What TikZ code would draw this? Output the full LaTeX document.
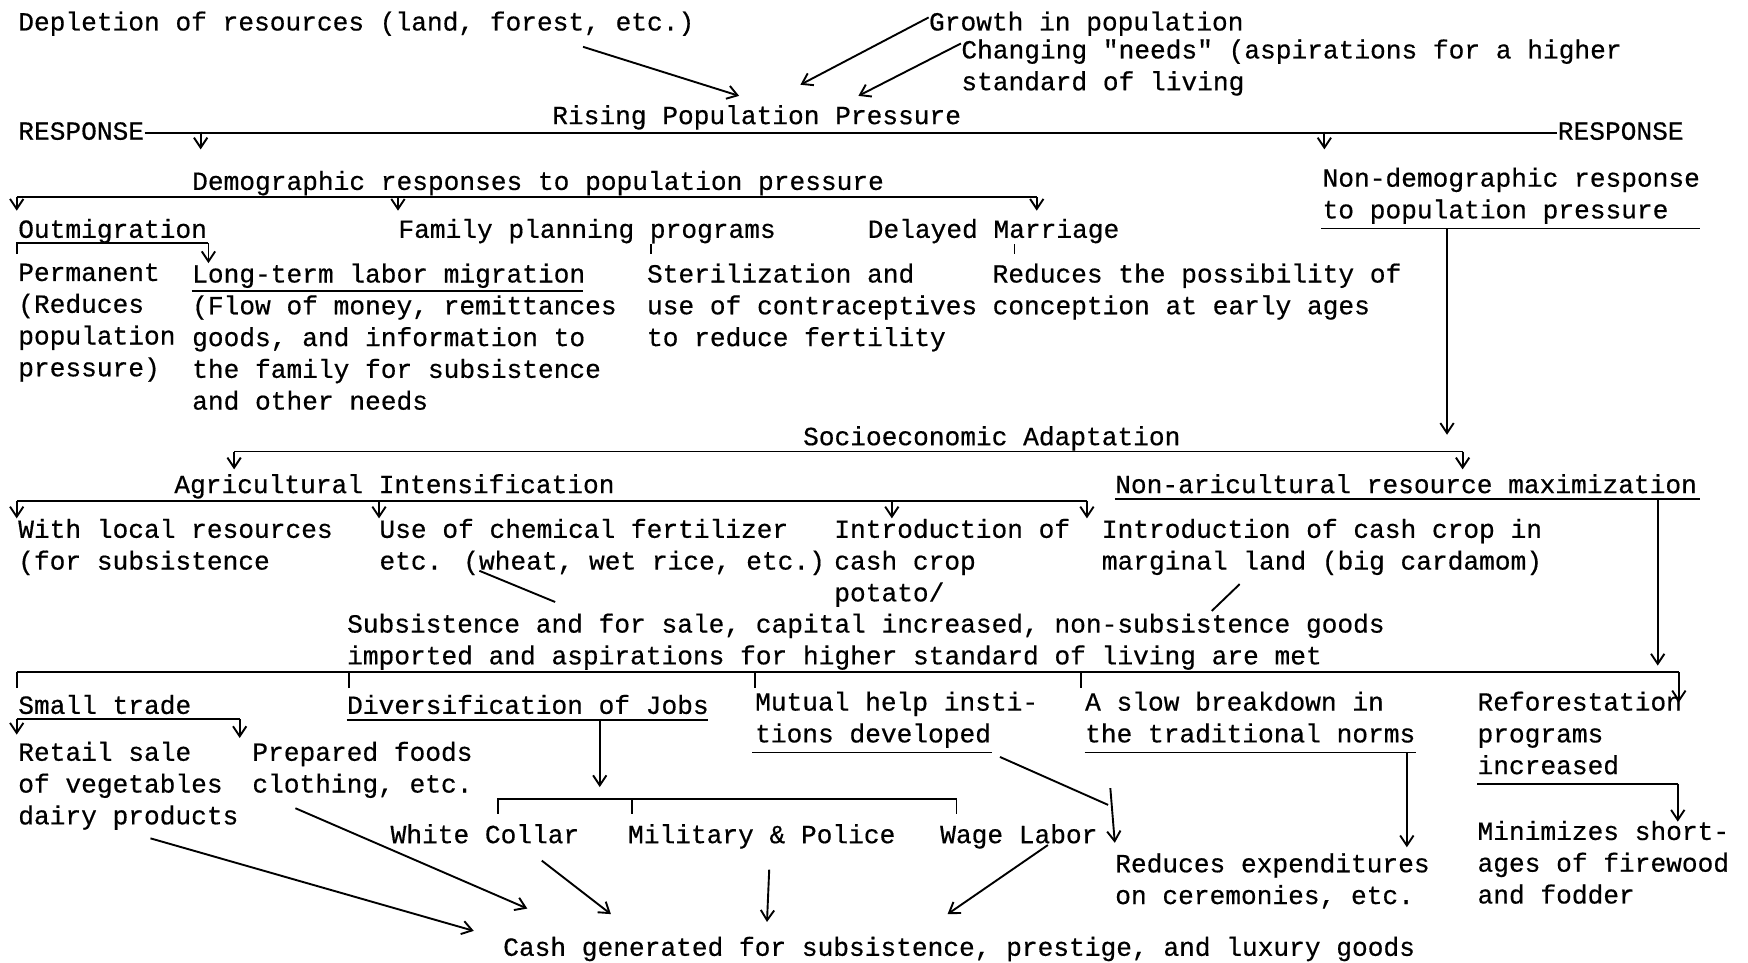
\documentclass[tikz,border=0pt]{standalone}
\usepackage{fontspec}
\newfontfamily\typew[FakeBold=0.5]{Liberation Mono}
\usetikzlibrary{arrows.meta}

\begin{document}
\begin{tikzpicture}[x=0.5pt,y=-0.5pt,
    txt/.style={inner sep=0pt,anchor=north west,align=left,
      font=\typew\fontsize{11.75}{14.25}\selectfont,
      execute at begin node=\strut},
    ln/.style={line width=0.85pt},
    arr/.style={line width=0.85pt,-{Straight Barb[length=4.5pt,width=6pt]}}]
  \fill[white] (0,0) rectangle (1568,863);
  \useasboundingbox (0,0) rectangle (1568,863);

  % causes of pressure
  \node[txt] (dep) at (16,7) {Depletion of resources (land, forest, etc.)};
  \node[txt] (growth) at (833,7) {Growth in population};
  \node[txt] (needs) at (862,35) {Changing "needs" (aspirations for a higher\\standard of living};
  \node[txt] (rpp) at (495,91) {Rising Population Pressure};
  \node[txt] (respL) at (16,105) {RESPONSE};
  \node[txt] (respR) at (1397,105) {RESPONSE};

  % demographic responses
  \node[txt] (demo) at (172,150) {Demographic responses to population pressure};
  \node[txt] (nondemo) at (1186,150) {Non-demographic response\\to population pressure};
  \node[txt] (outm) at (16,193) {Outmigration};
  \node[txt] (famplan) at (357,193) {Family planning programs};
  \node[txt] (delay) at (778,193) {Delayed Marriage};
  \node[txt] (perm) at (16,236) {Permanent\\(Reduces\\population\\pressure)};
  \node[txt] (labor) at (172,236) {Long-term labor migration\\(Flow of money, remittances\\goods, and information to\\the family for subsistence\\and other needs};
  \node[txt] (steril) at (580,236) {Sterilization and\\use of contraceptives\\to reduce fertility};
  \node[txt] (concep) at (890,236) {Reduces the possibility of\\conception at early ages};

  % socioeconomic adaptation
  \node[txt] (socio) at (720,379) {Socioeconomic Adaptation};
  \node[txt] (agri) at (156,422) {Agricultural Intensification};
  \node[txt] (nonagri) at (1000,422) {Non-aricultural resource maximization};
  \node[txt] (local) at (16,465) {With local resources\\(for subsistence};
  \node[txt] (chem) at (340,465) {Use of chemical fertilizer\\etc. (wheat, wet rice, etc.)};
  \node[txt] (potato) at (748,465) {Introduction of\\cash crop\\potato/};
  \node[txt] (cardam) at (988,465) {Introduction of cash crop in\\marginal land (big cardamom)};
  \node[txt] (subsist) at (311,550) {Subsistence and for sale, capital increased, non-subsistence goods\\imported and aspirations for higher standard of living are met};

  % outcomes
  \node[txt] (trade) at (16,620) {Small trade};
  \node[txt] (divers) at (311,620) {Diversification of Jobs};
  \node[txt] (mutual) at (677,620) {Mutual help insti-\\tions developed};
  \node[txt] (norms) at (973,620) {A slow breakdown in\\the traditional norms};
  \node[txt] (refor) at (1325,620) {Reforestation\\programs\\increased};
  \node[txt] (retail) at (16,665) {Retail sale\\of vegetables\\dairy products};
  \node[txt] (prep) at (226,665) {Prepared foods\\clothing, etc.};
  \node[txt] (white) at (350,736) {White Collar};
  \node[txt] (milit) at (563,736) {Military \& Police};
  \node[txt] (wage) at (843,736) {Wage Labor};
  \node[txt] (cerem) at (1000,765) {Reduces expenditures\\on ceremonies, etc.};
  \node[txt] (fodder) at (1325,736) {Minimizes short-\\ages of firewood\\and fodder};
  \node[txt] (cash) at (451,837) {Cash generated for subsistence, prestige, and luxury goods};

  % arrow ends and bars
  \coordinate (dep-from) at (523,42);
  \coordinate (dep-to) at (663,86);
  \coordinate (growth-to) at (718,76);
  \coordinate (needs-to) at (770,86);
  \coordinate (resp-l) at (180,118);
  \coordinate (resp-r) at (1188,118);
  \coordinate (demo-l) at (15,177);
  \coordinate (demo-r) at (930,177);
  \coordinate (nondemo-l) at (1185,205);
  \coordinate (nondemo-r) at (1525,205);
  \coordinate (nondemo-down) at (1298,205);
  \coordinate (outm-l) at (15,218);
  \coordinate (outm-r) at (187,218);
  \coordinate (fam-tick) at (584,219);
  \coordinate (delay-tick) at (910,219);
  \coordinate (labor-l) at (172,261);
  \coordinate (labor-r) at (523,261);
  \coordinate (socio-l) at (210,405);
  \coordinate (socio-r) at (1312,405);
  \coordinate (agri-l) at (15,449);
  \coordinate (agri-r) at (975,449);
  \coordinate (nonagri-l) at (1000,448);
  \coordinate (nonagri-r) at (1525,448);
  \coordinate (nonagri-down) at (1487,448);
  \coordinate (chem-from) at (430,512);
  \coordinate (chem-to) at (498,540);
  \coordinate (card-from) at (1112,524);
  \coordinate (card-to) at (1087,548);
  \coordinate (sub-l) at (15,603);
  \coordinate (sub-r) at (1506,603);
  \coordinate (trade-l) at (15,645);
  \coordinate (trade-r) at (215,645);
  \coordinate (divers-l) at (311,646);
  \coordinate (divers-r) at (635,646);
  \coordinate (divers-down) at (538,646);
  \coordinate (mutual-l) at (675,675);
  \coordinate (mutual-r) at (890,675);
  \coordinate (norms-l) at (973,675);
  \coordinate (norms-r) at (1270,675);
  \coordinate (norms-down) at (1262,675);
  \coordinate (refor-l) at (1325,703);
  \coordinate (refor-r) at (1505,703);
  \coordinate (jobs-l) at (447,717);
  \coordinate (jobs-m) at (567,717);
  \coordinate (jobs-r) at (858,717);
  \coordinate (mutual-from) at (897,679);
  \coordinate (cerem-join) at (994,722);
  \coordinate (cerem-top) at (996,707);
  \coordinate (cerem-to) at (1000,756);
  \coordinate (retail-from) at (135,752);
  \coordinate (retail-to) at (425,835);
  \coordinate (prep-from) at (265,725);
  \coordinate (prep-to) at (473,815);
  \coordinate (white-from) at (486,772);
  \coordinate (white-to) at (548,820);
  \coordinate (milit-from) at (690,780);
  \coordinate (milit-to) at (688,827);
  \coordinate (wage-from) at (940,758);
  \coordinate (wage-to) at (850,820);

  % top
  \draw[arr] (dep-from) -- (dep-to);
  \draw[arr] ([yshift=3pt]growth.west) -- (growth-to);
  \draw[arr] ([yshift=-2pt]needs.north west) -- (needs-to);
  \draw[ln] (respL.east) -- (respR.west);
  \draw[arr] (resp-l) -- ++(0,16);
  \draw[arr] (resp-r) -- ++(0,16);

  % demographic
  \draw[ln] (demo-l) -- (demo-r);
  \draw[arr] (demo-l) -- ++(0,12);
  \draw[arr] (demo-l -| famplan.west) -- ++(0,12);
  \draw[arr] (demo-r) -- ++(0,12);
  \draw[ln] (nondemo-l) -- (nondemo-r);
  \draw[arr] (nondemo-down) -- ++(0,185);
  \draw[ln] (outm-l) ++(0,10) -- (outm-l) -- (outm-r);
  \draw[arr] (outm-r) -- ++(0,18);
  \draw[ln] (fam-tick) -- ++(0,9);
  \draw[ln] (delay-tick) -- ++(0,9);
  \draw[ln] (labor-l) -- (labor-r);

  % socioeconomic
  \draw[ln] (socio-l) -- (socio-r);
  \draw[arr] (socio-l) -- ++(0,16);
  \draw[arr] (socio-r) -- ++(0,16);
  \draw[ln] (agri-l) -- (agri-r);
  \draw[arr] (agri-l) -- ++(0,16);
  \draw[arr] (agri-l -| chem.west) -- ++(0,16);
  \draw[arr] (agri-l -| 800,0) -- ++(0,16);
  \draw[arr] (agri-r) -- ++(0,16);
  \draw[ln] (nonagri-l) -- (nonagri-r);
  \draw[arr] (nonagri-down) -- ++(0,149);
  \draw[ln] (chem-from) -- (chem-to);
  \draw[ln] (card-from) -- (card-to);

  % outcomes
  \draw[ln] (sub-l) -- (sub-r);
  \draw[ln] (sub-l) -- ++(0,14);
  \draw[ln] (sub-l -| 313,0) -- ++(0,14);
  \draw[ln] (sub-l -| 677,0) -- ++(0,14);
  \draw[ln] (sub-l -| 970,0) -- ++(0,14);
  \draw[arr] (sub-r) -- ++(0,27);
  \draw[ln] (trade-l) -- (trade-r);
  \draw[arr] (trade-l) -- ++(0,14);
  \draw[arr] (trade-r) -- ++(0,17);
  \draw[ln] (divers-l) -- (divers-r);
  \draw[arr] (divers-down) -- ++(0,60);
  \draw[ln] (mutual-l) -- (mutual-r);
  \draw[ln] (norms-l) -- (norms-r);
  \draw[arr] (norms-down) -- ++(0,85);
  \draw[ln] (refor-l) -- (refor-r);
  \draw[arr] (refor-r) -- ++(0,34);
  \draw[ln] (jobs-l) ++(0,13) -- (jobs-l) -- (jobs-r) -- ++(0,13);
  \draw[ln] (jobs-m) -- ++(0,13);
  \draw[ln] (mutual-from) -- (cerem-join);
  \draw[arr] (cerem-top) -- (cerem-to);

  % cash
  \draw[arr] (retail-from) -- (retail-to);
  \draw[arr] (prep-from) -- (prep-to);
  \draw[arr] (white-from) -- (white-to);
  \draw[arr] (milit-from) -- (milit-to);
  \draw[arr] (wage-from) -- (wage-to);
\end{tikzpicture}
\end{document}
